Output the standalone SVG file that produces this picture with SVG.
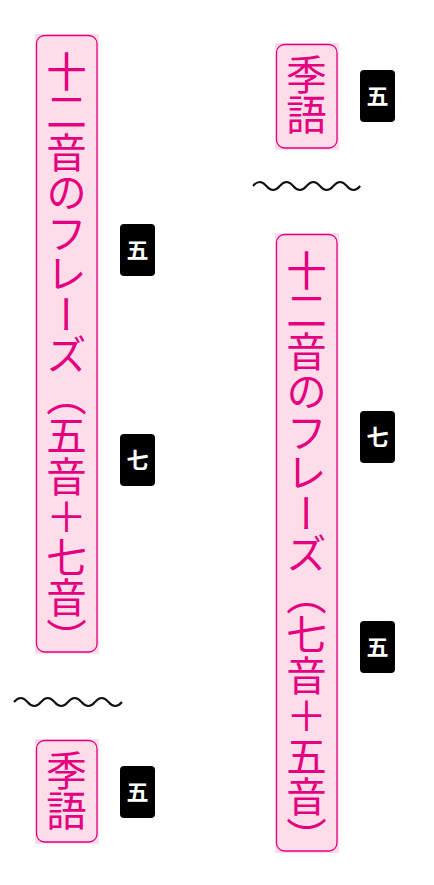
<svg xmlns="http://www.w3.org/2000/svg" width="434" height="885" viewBox="0 0 434 885">
<style>
.bg{fill:#fcdde9}
.bd{fill:none;stroke:#e4007f;stroke-width:1.3}
.vt{font-family:"Noto Sans CJK JP","Noto Sans CJK SC",sans-serif;font-size:40.5px;font-weight:normal;fill:#e4007f;writing-mode:vertical-rl}
.bx{fill:#000}
.bt{font-family:"Noto Sans CJK JP","Noto Sans CJK SC",sans-serif;font-size:22px;font-weight:bold;fill:#fff;text-anchor:middle}
.wv{fill:none;stroke:#111;stroke-width:2}
</style>
<rect width="434" height="885" fill="#fff"/>
<g id="left-phrase">
<rect class="bg" x="35" y="34" width="64" height="620"/>
<rect class="bd" x="36.5" y="35.5" width="60.5" height="616.5" rx="8"/>
<text class="vt" x="66.5" y="51">十二音のフレーズ（五音＋七音）</text>
</g>
<g id="left-kigo">
<rect class="bg" x="35" y="739" width="64" height="105"/>
<rect class="bd" x="36.5" y="740.5" width="60.5" height="101.5" rx="8"/>
<text class="vt" x="66.5" y="750">季語</text>
</g>
<g id="right-kigo">
<rect class="bg" x="275" y="43" width="64" height="107"/>
<rect class="bd" x="276.5" y="44.5" width="60.5" height="103.5" rx="8"/>
<text class="vt" x="306.5" y="54">季語</text>
</g>
<g id="right-phrase">
<rect class="bg" x="275" y="233" width="64" height="620"/>
<rect class="bd" x="276.5" y="234.5" width="60.5" height="616.5" rx="8"/>
<text class="vt" x="306.5" y="250">十二音のフレーズ（七音＋五音）</text>
</g>
<g id="badges">
<rect class="bx" x="120" y="224" width="35" height="52" rx="4"/><text class="bt" x="137.5" y="258">五</text>
<rect class="bx" x="120" y="434" width="35" height="52" rx="4"/><text class="bt" x="137.5" y="468">七</text>
<rect class="bx" x="120" y="766" width="35" height="52" rx="4"/><text class="bt" x="137.5" y="800">五</text>
<rect class="bx" x="360" y="70" width="35" height="52" rx="4"/><text class="bt" x="377.5" y="104">五</text>
<rect class="bx" x="360" y="411" width="35" height="52" rx="4"/><text class="bt" x="377.5" y="445">七</text>
<rect class="bx" x="360" y="621" width="35" height="52" rx="4"/><text class="bt" x="377.5" y="655">五</text>
</g>
<g id="connectors">
<path class="wv" d="M14 702 q6.75 -8 13.5 0 t13.5 0 t13.5 0 t13.5 0 t13.5 0 t13.5 0 t13.5 0 t13.5 0"/>
<path class="wv" d="M253 186 q6.7 -8 13.4 0 t13.4 0 t13.4 0 t13.4 0 t13.4 0 t13.4 0 t13.4 0 t13.4 0"/>
</g>
</svg>
